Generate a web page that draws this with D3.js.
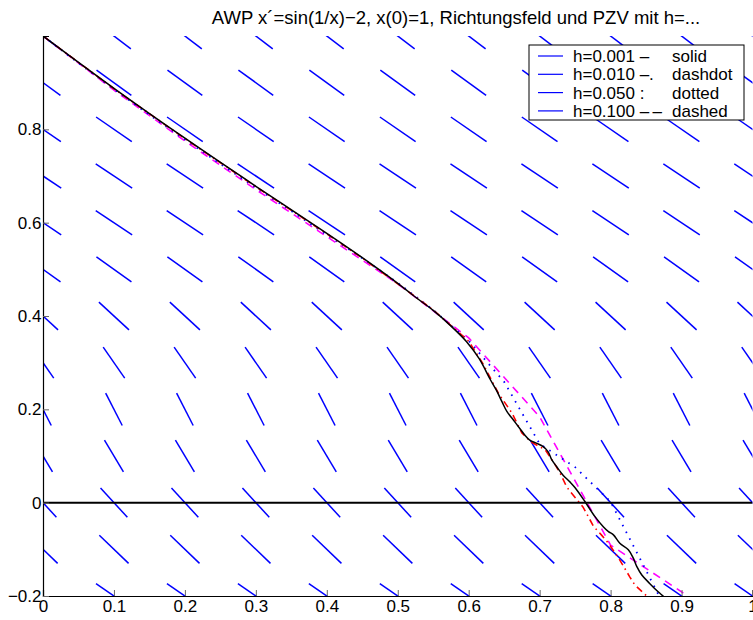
<!DOCTYPE html>
<html>
<head>
<meta charset="utf-8">
<script src="https://cdn.jsdelivr.net/npm/d3@7"></script>
<style>
body { margin: 0; background: #fff; }
text { font-family: "Liberation Sans", Arial, Helvetica, sans-serif; }
</style>
</head>
<body>
<svg width="753" height="620"></svg>
<script>
// direction field: columns (t), rows (x), slope of each row
const fieldT = [0, 0.1, 0.2, 0.3, 0.4, 0.5, 0.6, 0.7, 0.8, 0.9, 1];
const fieldX = [-0.2, -0.1, 0, 0.1, 0.2, 0.3, 0.4, 0.5, 0.6, 0.7, 0.8, 0.9, 1];
const fieldSlope = [-1.04, -1.46, -1.65, -2.54, -2.96, -2.19, -1.40, -1.09, -1.01, -1.01, -1.05, -1.10, -1.16];

// polygon solutions
const h001T = [0, 0.1, 0.2, 0.3, 0.4, 0.45, 0.5, 0.527, 0.55, 0.574, 0.597, 0.615, 0.630, 0.639, 0.647, 0.654, 0.663, 0.672, 0.679, 0.686, 0.696, 0.705, 0.712, 0.717, 0.724, 0.733, 0.743, 0.750, 0.764, 0.778, 0.790, 0.797, 0.804, 0.813, 0.825, 0.832, 0.837, 0.844, 0.855, 0.867, 0.874, 0.885];
const h001X = [1, 0.888, 0.781, 0.678, 0.577, 0.525, 0.470, 0.438, 0.412, 0.380, 0.345, 0.308, 0.265, 0.241, 0.216, 0.195, 0.177, 0.159, 0.145, 0.134, 0.127, 0.120, 0.109, 0.092, 0.077, 0.059, 0.044, 0.032, 0.002, -0.030, -0.052, -0.062, -0.069, -0.087, -0.101, -0.119, -0.137, -0.155, -0.173, -0.191, -0.200, -0.215];

const h010T = [0, 0.1, 0.2, 0.3, 0.4, 0.45, 0.5, 0.55, 0.6, 0.62, 0.642, 0.661, 0.675, 0.688, 0.700, 0.708, 0.722, 0.729, 0.738, 0.743, 0.761, 0.776, 0.787, 0.797, 0.813, 0.827, 0.834, 0.851, 0.86];
const h010X = [1, 0.887, 0.780, 0.677, 0.576, 0.524, 0.469, 0.413, 0.346, 0.298, 0.234, 0.192, 0.149, 0.130, 0.120, 0.113, 0.081, 0.063, 0.034, 0.024, -0.009, -0.051, -0.069, -0.087, -0.123, -0.159, -0.176, -0.200, -0.215];

const h050T = [0, 0.05, 0.1, 0.15, 0.2, 0.25, 0.3, 0.35, 0.4, 0.45, 0.5, 0.55, 0.6, 0.65, 0.7, 0.75, 0.8, 0.85, 0.9];
const h050X = [1, 0.942, 0.886, 0.831, 0.778, 0.726, 0.675, 0.625, 0.574, 0.524, 0.471, 0.413, 0.347, 0.259, 0.126, 0.076, 0.002, -0.145, -0.295];

const h100T = [0, 0.1, 0.2, 0.3, 0.4, 0.5, 0.6, 0.7, 0.8, 0.9, 1];
const h100X = [1, 0.884, 0.775, 0.671, 0.570, 0.469, 0.353, 0.184, -0.091, -0.191, -0.304];

const legendLabels = ["h=0.001 \u2013", "h=0.010 \u2013.", "h=0.050 :", "h=0.100 \u2013\u2009\u2013"];
const legendStyles = ["solid", "dashdot", "dotted", "dashed"];

const xTicks = [0, 0.1, 0.2, 0.3, 0.4, 0.5, 0.6, 0.7, 0.8, 0.9, 1];
const yTicks = [-0.2, 0, 0.2, 0.4, 0.6, 0.8];

const titleText = "AWP x\u00b4=sin(1/x)\u22122, x(0)=1, Richtungsfeld und PZV mit h=...";

let svg = d3.select("svg"),
    margin = {top: 36, right: 0.5, bottom: 24, left: 43},
    width = +svg.attr("width") - margin.left - margin.right,
    height = +svg.attr("height") - margin.top - margin.bottom,
    g = svg.append("g").attr("transform", "translate(" + margin.left + "," + margin.top + ")");

const x = d3.scaleLinear().domain([0, 1]).range([0, width]);
const y = d3.scaleLinear().domain([-0.2, 1]).range([height, 0]);

svg.append("defs").append("clipPath").attr("id", "plot")
  .append("rect").attr("width", width).attr("height", height);

const plot = g.append("g").attr("clip-path", "url(#plot)");

// direction field segments, fixed length in data units, centred on grid point
const segLen = 0.073;
const segs = [];
fieldX.forEach((xv, j) => {
  const s = fieldSlope[j];
  const n = Math.sqrt(1 + s * s);
  const dt = segLen / 2 / n, dx = segLen / 2 * s / n;
  fieldT.forEach(tv => segs.push({t0: tv - dt, x0: xv - dx, t1: tv + dt, x1: xv + dx}));
});

plot.selectAll(".seg")
  .data(segs)
  .enter().append("line")
    .attr("x1", d => x(d.t0)).attr("y1", d => y(d.x0))
    .attr("x2", d => x(d.t1)).attr("y2", d => y(d.x1))
    .attr("stroke", "#0000ff")
    .attr("stroke-width", 1.5);

const zip = (ts, xs) => ts.map((t, i) => ({t: t, v: xs[i]}));

const line_gen = d3.line()
    .x(d => x(d.t))
    .y(d => y(d.v));

const curves = [
  {data: zip(h100T, h100X), color: "#ff00ff", dash: "8,6", w: 1.6},
  {data: zip(h050T, h050X), color: "#0000ff", dash: "1.6,6", w: 1.8},
  {data: zip(h010T, h010X), color: "#ff0000", dash: "7,4,1.5,4", w: 1.6},
  {data: zip(h001T, h001X), color: "#000000", dash: null, w: 1.5, smooth: true}
];

curves.forEach(c => {
  plot.append("path")
    .datum(c.data)
    .attr("fill", "none")
    .attr("stroke", c.color)
    .attr("stroke-width", c.w)
    .attr("stroke-dasharray", c.dash)
    .attr("d", c.smooth ? line_gen.curve(d3.curveCatmullRom)(c.data) : line_gen.curve(d3.curveLinear)(c.data));
});

// x = 0 line
plot.append("line")
  .attr("x1", x(0)).attr("x2", x(1))
  .attr("y1", y(0)).attr("y2", y(0))
  .attr("stroke", "#000").attr("stroke-width", 2);

// axes, ticks inside like matlab
const fmt = d => d3.format("~g")(d).replace("-", "\u2212");

const xAxis = g.append("g")
    .attr("transform", "translate(0," + height + ")")
    .call(d3.axisBottom(x).tickValues(xTicks).tickSize(-6).tickPadding(4).tickFormat(fmt));
const yAxis = g.append("g")
    .call(d3.axisLeft(y).tickValues(yTicks).tickSize(-6).tickPadding(1.5).tickFormat(fmt));

[xAxis, yAxis].forEach(a => {
  a.select(".domain").attr("stroke", "#000").attr("stroke-width", 1.2);
  a.selectAll(".tick line").attr("stroke", "#666");
  a.selectAll("text")
    .attr("font-family", "'Liberation Sans', Arial, sans-serif")
    .attr("font-size", 17)
    .attr("fill", "#000");
});

// title
svg.append("text")
  .attr("x", 456)
  .attr("y", 24)
  .attr("text-anchor", "middle")
  .attr("font-size", 18.5)
  .text(titleText);

// legend
const lg = svg.append("g").attr("transform", "translate(529,45)");
lg.append("rect")
  .attr("width", 215).attr("height", 75)
  .attr("fill", "#fff").attr("stroke", "#000").attr("stroke-width", 1);

const rows = lg.selectAll(".row")
  .data(legendLabels)
  .enter().append("g")
    .attr("transform", (d, i) => "translate(0," + (11 + i * 18.3) + ")");
rows.append("line")
  .attr("x1", 9).attr("x2", 34)
  .attr("stroke", "#0000ff").attr("stroke-width", 1.2);
rows.append("text")
  .attr("x", 44).attr("y", 6)
  .attr("font-size", 17)
  .text(d => d);
rows.append("text")
  .attr("x", 143).attr("y", 6)
  .attr("font-size", 17)
  .text((d, i) => legendStyles[i]);
</script>
</body>
</html>
